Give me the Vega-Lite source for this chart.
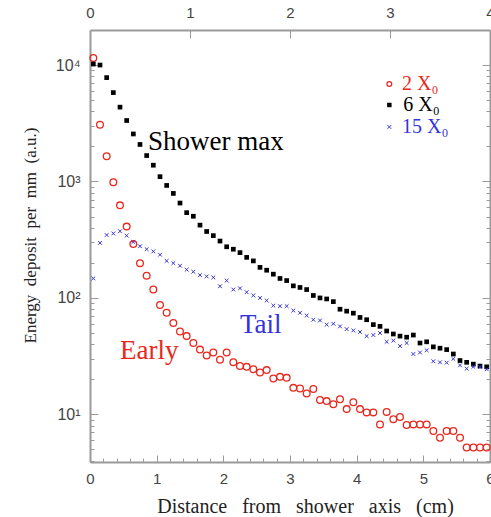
{
  "$schema": "https://vega.github.io/schema/vega-lite/v6.json",
  "autosize": "none",
  "padding": {"left": 90, "top": 30, "right": 1, "bottom": 55},
  "width": 400,
  "height": 432,
  "background": "white",
  "config": {"view": {"stroke": null}, "axis": {"grid": false}},
  "datasets": {
    "early": [
      {"x":0.05,"y":11500},{"x":0.15,"y":3070},{"x":0.25,"y":1650},{"x":0.35,"y":985},{"x":0.45,"y":624},{"x":0.55,"y":410},{"x":0.65,"y":290},{"x":0.75,"y":199},{"x":0.85,"y":155},{"x":0.95,"y":118},
      {"x":1.05,"y":87},{"x":1.15,"y":74.5},{"x":1.25,"y":61},{"x":1.35,"y":51.5},{"x":1.45,"y":47},{"x":1.55,"y":41},{"x":1.65,"y":36},{"x":1.75,"y":32},{"x":1.85,"y":34},{"x":1.95,"y":29.5},
      {"x":2.05,"y":34},{"x":2.15,"y":28},{"x":2.25,"y":26},{"x":2.35,"y":25.6},{"x":2.45,"y":24.4},{"x":2.55,"y":22.9},{"x":2.65,"y":24},{"x":2.75,"y":20.3},{"x":2.85,"y":21},{"x":2.95,"y":20.6},
      {"x":3.05,"y":16.9},{"x":3.15,"y":16.7},{"x":3.25,"y":15.1},{"x":3.35,"y":16.5},{"x":3.45,"y":13.3},{"x":3.55,"y":13},{"x":3.65,"y":12.2},{"x":3.75,"y":13.5},{"x":3.85,"y":11.1},{"x":3.95,"y":12.7},
      {"x":4.05,"y":11.1},{"x":4.15,"y":10.4},{"x":4.25,"y":10.4},{"x":4.35,"y":8.2},{"x":4.45,"y":10.5},{"x":4.55,"y":9.1},{"x":4.65,"y":9.5},{"x":4.75,"y":8.1},{"x":4.85,"y":8.2},{"x":4.95,"y":8.2},
      {"x":5.05,"y":8.2},{"x":5.15,"y":7.2},{"x":5.25,"y":6.3},{"x":5.35,"y":7.2},{"x":5.45,"y":7.2},{"x":5.55,"y":6.3},{"x":5.65,"y":5.2},{"x":5.75,"y":5.2},{"x":5.85,"y":5.2},{"x":5.95,"y":5.2}
    ],
    "max": [
      {"x":0.05,"y":10200},{"x":0.15,"y":10000},{"x":0.25,"y":7800},{"x":0.35,"y":5800},{"x":0.45,"y":4350},{"x":0.55,"y":3340},{"x":0.65,"y":2560},{"x":0.75,"y":2080},{"x":0.85,"y":1670},{"x":0.95,"y":1380},
      {"x":1.05,"y":1100},{"x":1.15,"y":925},{"x":1.25,"y":790},{"x":1.35,"y":653},{"x":1.45,"y":540},{"x":1.55,"y":503},{"x":1.65,"y":422},{"x":1.75,"y":372},{"x":1.85,"y":343},{"x":1.95,"y":308},
      {"x":2.05,"y":275},{"x":2.15,"y":262},{"x":2.25,"y":245},{"x":2.35,"y":223},{"x":2.45,"y":208},{"x":2.55,"y":183},{"x":2.65,"y":173},{"x":2.75,"y":160},{"x":2.85,"y":147},{"x":2.95,"y":141},
      {"x":3.05,"y":127},{"x":3.15,"y":123},{"x":3.25,"y":118},{"x":3.35,"y":105},{"x":3.45,"y":100},{"x":3.55,"y":98},{"x":3.65,"y":93},{"x":3.75,"y":80},{"x":3.85,"y":77},{"x":3.95,"y":74},
      {"x":4.05,"y":68},{"x":4.15,"y":65},{"x":4.25,"y":59},{"x":4.35,"y":57},{"x":4.45,"y":52},{"x":4.55,"y":49},{"x":4.65,"y":47},{"x":4.75,"y":46},{"x":4.85,"y":48},{"x":4.95,"y":41},
      {"x":5.05,"y":42},{"x":5.15,"y":38},{"x":5.25,"y":37},{"x":5.35,"y":36},{"x":5.45,"y":33},{"x":5.55,"y":29},{"x":5.65,"y":28},{"x":5.75,"y":27},{"x":5.85,"y":26},{"x":5.95,"y":25.6}
    ],
    "tail": [
      {"x":0.05,"y":147},{"x":0.15,"y":297},{"x":0.25,"y":347},{"x":0.35,"y":358},{"x":0.45,"y":374},{"x":0.55,"y":343},{"x":0.65,"y":302},{"x":0.75,"y":278},{"x":0.85,"y":262},{"x":0.95,"y":251},
      {"x":1.05,"y":235},{"x":1.15,"y":208},{"x":1.25,"y":199},{"x":1.35,"y":189},{"x":1.45,"y":175},{"x":1.55,"y":168},{"x":1.65,"y":157},{"x":1.75,"y":153},{"x":1.85,"y":150},{"x":1.95,"y":126},
      {"x":2.05,"y":141},{"x":2.15,"y":118},{"x":2.25,"y":121},{"x":2.35,"y":112},{"x":2.45,"y":105},{"x":2.55,"y":100},{"x":2.65,"y":95},{"x":2.75,"y":86},{"x":2.85,"y":85},{"x":2.95,"y":85},
      {"x":3.05,"y":78},{"x":3.15,"y":74.5},{"x":3.25,"y":70.6},{"x":3.35,"y":65},{"x":3.45,"y":64},{"x":3.55,"y":59},{"x":3.65,"y":60},{"x":3.75,"y":57},{"x":3.85,"y":54},{"x":3.95,"y":52.6},
      {"x":4.05,"y":51},{"x":4.15,"y":47},{"x":4.25,"y":48},{"x":4.35,"y":50},{"x":4.45,"y":42},{"x":4.55,"y":43},{"x":4.65,"y":38.6},{"x":4.75,"y":41},{"x":4.85,"y":33},{"x":4.95,"y":34},
      {"x":5.05,"y":35.5},{"x":5.15,"y":28.6},{"x":5.25,"y":28},{"x":5.35,"y":27.8},{"x":5.45,"y":30},{"x":5.55,"y":26.4},{"x":5.65,"y":24.7},{"x":5.75,"y":25.6},{"x":5.85,"y":25.6},{"x":5.95,"y":24.4}
    ],
    "legend": [
      {"series":"2","label":"2 X₀","sx":4.49,"tx":4.68,"y":6870},
      {"series":"6","label":"6 X₀","sx":4.49,"tx":4.7,"y":4540},
      {"series":"15","label":"15 X₀","sx":4.49,"tx":4.68,"y":2940}
    ],
    "notes": [
      {"series":"6","label":"Shower max","x":0.87,"y":2180},
      {"series":"15","label":"Tail","x":2.25,"y":58.6},
      {"series":"2","label":"Early","x":0.45,"y":35}
    ],
    "frame": [{"x":0,"t":0,"y":10},{"x":6,"t":4,"y":10000}]
  },
  "layer": [
    {
      "encoding": {
        "x": {"field":"x","type":"quantitative","scale":{"domain":[0,6],"nice":false,"zero":false},
          "axis":{"orient":"bottom","values":[0,1,2,3,4,5,6],"format":"d","tickSize":-7,"labelPadding":16,"labelOverlap":false,"labelFlush":false,
            "domainColor":"#9a9a9a","domainWidth":2,"tickColor":"#9a9a9a","tickWidth":1,
            "labelFont":"Liberation Sans","labelFontSize":15,"labelColor":"#444",
            "title":"Distance\u00a0\u00a0 from\u00a0\u00a0 shower\u00a0\u00a0 axis\u00a0\u00a0 (cm)","titleFont":"Liberation Serif","titleFontSize":20,"titleFontWeight":"normal","titleColor":"#222",
            "titleX":215,"titleY":44,"titleBaseline":"middle","titleAlign":"center"}},
        "y": {"field":"y","type":"quantitative","scale":{"type":"log","domain":[3.9,20000],"nice":false},
          "axis":{"orient":"left","values":[10,100,1000,10000],"tickSize":-8,"labelPadding":18,"labelOverlap":false,"labelFlush":false,
            "labelExpr":"'10' + (datum.value==10 ? '¹' : datum.value==100 ? '²' : datum.value==1000 ? '³' : '⁴')",
            "domainColor":"#9a9a9a","domainWidth":2,"tickColor":"#9a9a9a","tickWidth":1,
            "labelFont":"Liberation Sans","labelFontSize":16,"labelColor":"#444",
            "title":"Energy\u00a0 deposit\u00a0 per\u00a0 mm\u00a0 (a.u.)","titleFont":"Liberation Serif","titleFontSize":17,"titleFontWeight":"normal","titleColor":"#222",
            "titleX":-60,"titleY":205,"titleAngle":-90,"titleBaseline":"middle","titleAlign":"center"}}
      },
      "layer": [
        {"data":{"name":"early"},"mark":{"type":"point","shape":"circle","filled":false,"stroke":"#e8281e","strokeWidth":1.3,"size":45,"opacity":1}},
        {"data":{"name":"max"},"mark":{"type":"point","shape":"square","filled":true,"color":"#000000","size":22,"opacity":1}},
        {"data":{"name":"tail"},"mark":{"type":"point","shape":"M-1,-1L1,1M1,-1L-1,1","filled":false,"stroke":"#3333dd","strokeWidth":1,"size":14,"opacity":1}},
        {"data":{"name":"legend"},"transform":[{"filter":"datum.series=='2'"}],"mark":{"type":"point","shape":"circle","filled":false,"stroke":"#e8281e","strokeWidth":1.3,"size":22,"opacity":1},
          "encoding":{"x":{"field":"sx","type":"quantitative"}}},
        {"data":{"name":"legend"},"transform":[{"filter":"datum.series=='6'"}],"mark":{"type":"point","shape":"square","filled":true,"color":"#000000","size":20,"opacity":1},
          "encoding":{"x":{"field":"sx","type":"quantitative"}}},
        {"data":{"name":"legend"},"transform":[{"filter":"datum.series=='15'"}],"mark":{"type":"point","shape":"M-1,-1L1,1M1,-1L-1,1","filled":false,"stroke":"#3333dd","strokeWidth":1,"size":14,"opacity":1},
          "encoding":{"x":{"field":"sx","type":"quantitative"}}},
        {"data":{"name":"legend"},"mark":{"type":"text","font":"Liberation Serif","fontSize":20,"align":"left","baseline":"middle"},
          "encoding":{"x":{"field":"tx","type":"quantitative"},"text":{"field":"label"},
            "color":{"field":"series","type":"nominal","scale":{"domain":["2","6","15"],"range":["#e8281e","#000000","#3333dd"]},"legend":null}}},
        {"data":{"name":"notes"},"mark":{"type":"text","font":"Liberation Serif","fontSize":27,"align":"left","baseline":"middle"},
          "encoding":{"text":{"field":"label"},
            "color":{"field":"series","type":"nominal","scale":{"domain":["2","6","15"],"range":["#e8281e","#000000","#3333dd"]},"legend":null}}}
      ]
    },
    {
      "data":{"name":"frame"},
      "mark":{"type":"point","opacity":0},
      "encoding":{
        "x":{"field":"x","type":"quantitative","scale":{"domain":[0,6],"nice":false,"zero":false},
          "axis":{"orient":"bottom","values":[0.2,0.4,0.6,0.8,1.2,1.4,1.6,1.8,2.2,2.4,2.6,2.8,3.2,3.4,3.6,3.8,4.2,4.4,4.6,4.8,5.2,5.4,5.6,5.8],
            "tickSize":-4,"labels":false,"domain":false,"title":null,"tickColor":"#9a9a9a","tickWidth":1}},
        "y":{"field":"y","type":"quantitative","scale":{"type":"log","domain":[3.9,20000],"nice":false},
          "axis":{"orient":"right","values":[10,100,1000,10000],"tickSize":-8,"labels":false,"title":null,
            "domainColor":"#9a9a9a","domainWidth":2,"tickColor":"#9a9a9a","tickWidth":1}}
      }
    },
    {
      "data":{"name":"frame"},
      "mark":{"type":"point","opacity":0},
      "encoding":{
        "x":{"field":"t","type":"quantitative","scale":{"domain":[0,4],"nice":false,"zero":false},
          "axis":{"orient":"top","values":[0,1,2,3,4],"format":"d","tickSize":-8,"labelPadding":18,"labelOverlap":false,"labelFlush":false,"title":null,
            "domainColor":"#9a9a9a","domainWidth":2,"tickColor":"#9a9a9a","tickWidth":1,
            "labelFont":"Liberation Sans","labelFontSize":15,"labelColor":"#444"}},
        "y":{"field":"y","type":"quantitative","scale":{"type":"log","domain":[3.9,20000],"nice":false},
          "axis":{"orient":"left","values":[4,5,6,7,8,9,20,30,40,50,60,70,80,90,200,300,400,500,600,700,800,900,2000,3000,4000,5000,6000,7000,8000,9000],
            "tickSize":-4,"labels":false,"domain":false,"title":null,"tickColor":"#9a9a9a","tickWidth":1}}
      }
    },
    {
      "data":{"name":"frame"},
      "mark":{"type":"point","opacity":0},
      "encoding":{
        "x":{"field":"x","type":"quantitative","scale":{"domain":[0,6],"nice":false,"zero":false},"axis":null},
        "y":{"field":"y","type":"quantitative","scale":{"type":"log","domain":[3.9,20000],"nice":false},
          "axis":{"orient":"right","values":[4,5,6,7,8,9,20,30,40,50,60,70,80,90,200,300,400,500,600,700,800,900,2000,3000,4000,5000,6000,7000,8000,9000],
            "tickSize":-4,"labels":false,"domain":false,"title":null,"tickColor":"#9a9a9a","tickWidth":1}}
      }
    }
  ],
  "resolve": {"scale": {"x": "independent", "y": "independent"}}
}
